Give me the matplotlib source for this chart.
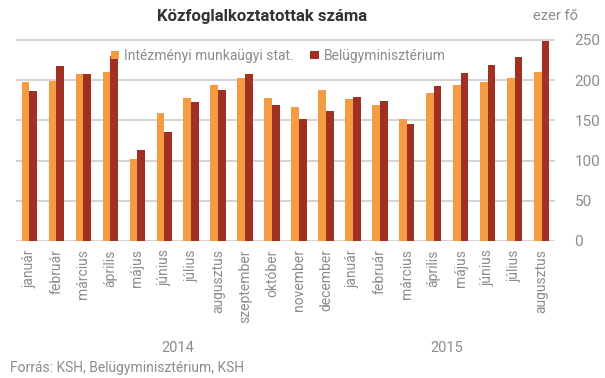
import matplotlib
matplotlib.use("Agg")
import matplotlib.pyplot as plt
import numpy as np

plt.rcParams['font.family'] = ['Roboto', 'DejaVu Sans']

months = ["január", "február", "március", "április", "május", "június", "július",
          "augusztus", "szeptember", "október", "november", "december",
          "január", "február", "március", "április", "május", "június", "július",
          "augusztus"]
years = ["2014", "2015"]
year_counts = [12, 8]
intezmenyi = [198, 199, 208, 210, 102, 159, 178, 194, 202, 178, 166, 188,
              176, 169, 151, 184, 194, 198, 202, 210]
belugy = [186, 218, 207, 230, 113, 135, 173, 187, 208, 169, 152, 162,
          179, 174, 145, 192, 209, 219, 228, 248]
yticks = [0, 50, 100, 150, 200, 250]

c_or = "#F59B42"
c_red = "#A03022"
gray_txt = "#8c8c8c"

fig = plt.figure(figsize=(6.05, 3.78), dpi=100)
ax = fig.add_axes([16/605, 1 - 241/378, 539/605, (252*0.805)/378])

x = np.arange(len(months))
w = 0.285
ax.bar(x - w/2, intezmenyi, w, color=c_or, zorder=3, label="Intézményi munkaügyi stat.")
ax.bar(x + w/2, belugy, w, color=c_red, zorder=3, label="Belügyminisztérium")

ax.set_xlim(-0.5, len(months) - 0.5)
ax.set_ylim(0, 252)
ax.set_yticks(yticks)
ax.yaxis.tick_right()
ax.tick_params(axis='y', length=0, pad=14, labelsize=11, labelcolor=gray_txt)
for lab in ax.get_yticklabels():
    lab.set_horizontalalignment('left')
ax.set_xticks(x)
ax.set_xticklabels(months, rotation=90, fontsize=10, color=gray_txt)
ax.tick_params(axis='x', length=0, pad=6)
ax.grid(axis='y', color="#cccccc", linewidth=1.2, zorder=0)
for s in ax.spines.values():
    s.set_visible(False)

# year labels
start = 0
for yr, cnt in zip(years, year_counts):
    ax.text(start + (cnt - 1) / 2, -0.527, yr, transform=ax.get_xaxis_transform(),
            ha='center', va='center', fontsize=10.5, color=gray_txt)
    start += cnt

leg = ax.legend(loc='upper left', bbox_to_anchor=(0.158, 0.995), ncol=2, frameon=False,
                fontsize=10, handlelength=0.6, handleheight=0.6, handletextpad=0.35,
                columnspacing=1.2, borderaxespad=0.3)
for t in leg.get_texts():
    t.set_color(gray_txt)

fig.text(262/605, 1 - 16/378, "Közfoglalkoztatottak száma", ha='center', va='center',
         fontsize=12, fontweight='bold', color="#333333")
fig.text(578/605, 1 - 16/378, "ezer fő", ha='right', va='center', fontsize=10.5, color=gray_txt)
fig.text(10/605, 1 - 368/378, "Forrás: KSH, Belügyminisztérium, KSH", ha='left', va='center',
         fontsize=10, color=gray_txt)

fig.savefig("out.png", dpi=100)
